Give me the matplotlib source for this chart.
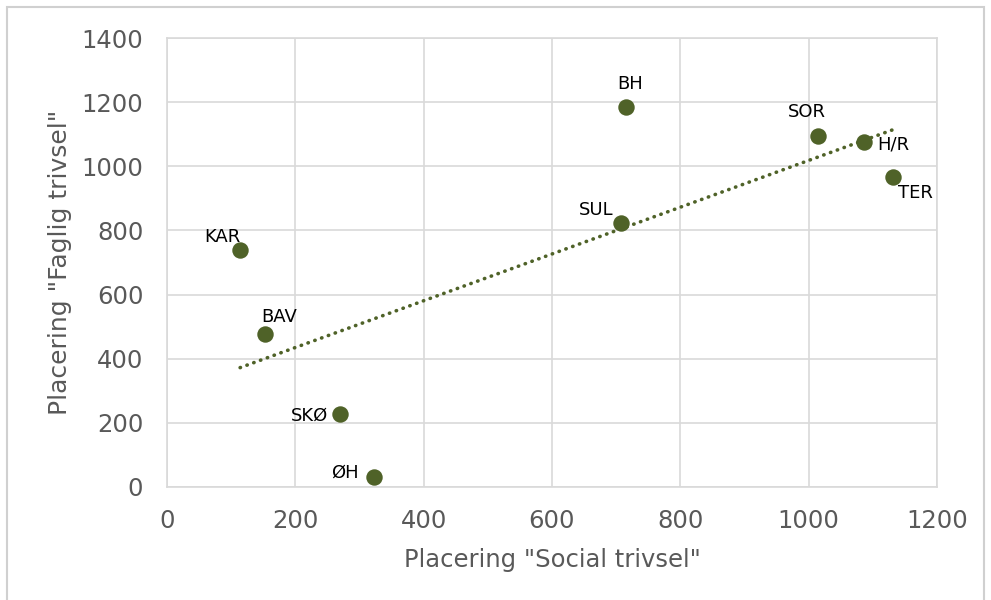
import numpy as np
import matplotlib
matplotlib.use("Agg")
import matplotlib.pyplot as plt
from matplotlib.patches import Rectangle

labels = ["KAR", "BAV", "SKØ", "ØH", "BH", "SOR", "H/R", "TER", "SUL"]
social = [114, 152, 270, 323, 715, 1014, 1086, 1132, 707]
faglig = [739, 477, 227, 31, 1187, 1095, 1076, 968, 822]
label_offsets = {
    "KAR": (0, 3, "right", "bottom"),
    "BAV": (-2, 6, "left", "bottom"),
    "SKØ": (-9, -1, "right", "center"),
    "ØH": (-11, 3, "right", "center"),
    "BH": (3, 10, "center", "bottom"),
    "SOR": (-8, 11, "center", "bottom"),
    "H/R": (10, -2, "left", "center"),
    "TER": (3, -5, "left", "top"),
    "SUL": (-5, 3, "right", "bottom"),
}

color = "#4f6228"
grid_c = "#d9d9d9"
text_c = "#595959"

fig = plt.figure(figsize=(9.91, 6.0), dpi=100)
fig.patches.append(Rectangle((0.007, -0.01), 0.986, 0.998, transform=fig.transFigure,
                             fill=False, edgecolor="#d0d0d0", linewidth=1.5))
ax = fig.add_axes([0.1685, 0.189, 0.777, 0.747])

ax.set_xlim(0, 1200)
ax.set_ylim(0, 1400)
ax.set_xticks(np.arange(0, 1201, 200))
ax.set_yticks(np.arange(0, 1401, 200))
ax.grid(True, color=grid_c, linewidth=1.2)
ax.set_axisbelow(True)
for s in ax.spines.values():
    s.set_color(grid_c)
    s.set_linewidth(1.2)
ax.tick_params(length=0, labelsize=17.5, labelcolor=text_c)
ax.tick_params(axis="y", pad=17)
ax.tick_params(axis="x", pad=16)

# trendline
xs = np.array(social, dtype=float)
ys = np.array(faglig, dtype=float)
m, b = np.polyfit(xs, ys, 1)
xl = np.array([xs.min(), xs.max()])
ax.plot(xl, m * xl + b, color=color, linewidth=2.6,
        linestyle=(0, (0.1, 1.9)), dash_capstyle="round", zorder=2)

ax.scatter(social, faglig, s=140, color=color, zorder=3, linewidths=0)
for lab, x, y in zip(labels, social, faglig):
    dx, dy, ha, va = label_offsets[lab]
    ax.annotate(lab, (x, y), xytext=(dx, dy), textcoords="offset points",
                ha=ha, va=va, fontsize=13, color="black")

ax.set_xlabel('Placering "Social trivsel"', fontsize=17.5, color=text_c, labelpad=11)
ax.set_ylabel('Placering "Faglig trivsel"', fontsize=18, color=text_c, labelpad=7)

fig.savefig("out.png", dpi=100)
